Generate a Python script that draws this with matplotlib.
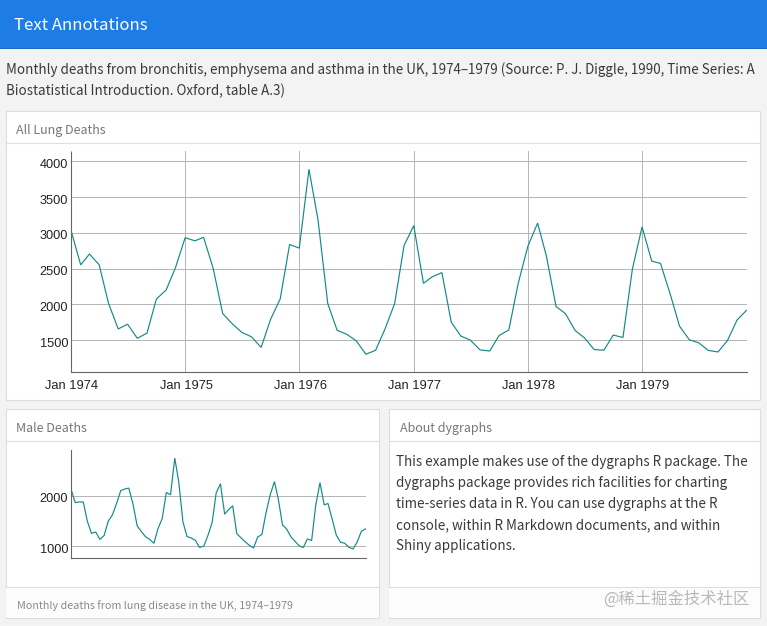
import matplotlib
matplotlib.use("Agg")
import matplotlib.pyplot as plt
from matplotlib.patches import Rectangle
from matplotlib.transforms import ScaledTranslation
import pandas as pd

plt.rcParams['font.family'] = ['Noto Sans CJK SC', 'DejaVu Sans']

# ---- data ----
months = pd.date_range("1974-01-01", "1979-12-01", freq="MS")
all_deaths = [
    3035, 2552, 2704, 2554, 2014, 1655, 1721, 1524, 1596, 2074, 2199, 2512,
    2933, 2889, 2938, 2497, 1870, 1726, 1607, 1545, 1396, 1787, 2076, 2837,
    2787, 3891, 3179, 2011, 1636, 1580, 1489, 1300, 1356, 1653, 2013, 2823,
    3102, 2294, 2385, 2444, 1748, 1554, 1498, 1361, 1346, 1564, 1640, 2293,
    2815, 3137, 2679, 1969, 1870, 1633, 1529, 1366, 1357, 1570, 1535, 2491,
    3084, 2605, 2573, 2143, 1693, 1504, 1461, 1354, 1333, 1492, 1781, 1915]
male_deaths = [
    2134, 1863, 1877, 1877, 1492, 1249, 1280, 1131, 1209, 1492, 1621, 1846,
    2103, 2137, 2153, 1833, 1403, 1288, 1186, 1133, 1053, 1347, 1545, 2066,
    2020, 2750, 2283, 1479, 1189, 1160, 1113, 970, 999, 1208, 1467, 2059,
    2240, 1634, 1722, 1801, 1246, 1162, 1087, 1013, 959, 1179, 1229, 1655,
    2019, 2284, 1942, 1423, 1340, 1187, 1098, 1004, 970, 1140, 1110, 1812,
    2263, 1820, 1846, 1531, 1215, 1075, 1056, 975, 940, 1081, 1294, 1341]
top_yticks = [1500, 2000, 2500, 3000, 3500, 4000]
male_yticks = [1000, 2000]
year_ticks = pd.to_datetime(["1974-01-01", "1975-01-01", "1976-01-01",
                             "1977-01-01", "1978-01-01", "1979-01-01"])
year_labels = ["Jan 1974", "Jan 1975", "Jan 1976", "Jan 1977", "Jan 1978", "Jan 1979"]

title_text = "Text Annotations"
intro_lines = ["Monthly deaths from bronchitis, emphysema and asthma in the UK, 1974–1979 (Source: P. J. Diggle, 1990, Time Series: A",
               "Biostatistical Introduction. Oxford, table A.3)"]
about_lines = ["This example makes use of the dygraphs R package. The",
               "dygraphs package provides rich facilities for charting",
               "time-series data in R. You can use dygraphs at the R",
               "console, within R Markdown documents, and within",
               "Shiny applications."]
footer_text = "Monthly deaths from lung disease in the UK, 1974–1979"
watermark = "@稀土掘金技术社区"

# ---- layout ----
W, H = 767, 626
BLUE, BG, BORDER = "#1e7ce6", "#f3f3f3", "#dedede"
TEAL, GRID, AXIS = "#138a88", "#b4b4b4", "#666666"
INK, MUTED = "#3a3a3a", "#777777"

fig = plt.figure(figsize=(W / 100, H / 100), dpi=100, facecolor=BG)
bg = fig.add_axes([0, 0, 1, 1], zorder=0)
bg.set_xlim(0, W)
bg.set_ylim(H, 0)
bg.axis("off")

bg.add_patch(Rectangle((0, 0), W, 48, fc=BLUE, ec="none"))
bg.add_patch(Rectangle((0, 48), W, 1, fc="#1a68c2", ec="none"))
bg.text(14, 25, title_text, color="white", fontsize=12.05, va="center", ha="left")
for i, line in enumerate(intro_lines):
    bg.text(6, 70 + 21 * i, line, color=INK, fontsize=9.65, va="center", ha="left")


def panel(x0, y0, x1, y1, title, foot_y=None):
    bg.add_patch(Rectangle((x0, y0), x1 - x0, y1 - y0, fc="white", ec=BORDER, lw=0.8))
    bg.plot([x0, x1], [y0 + 32, y0 + 32], color=BORDER, lw=0.8)
    bg.text(x0 + 11, y0 + 20, title, color=MUTED, fontsize=9.0, va="center", ha="left")
    if foot_y is not None:
        bg.add_patch(Rectangle((x0 + 0.5, foot_y), x1 - x0 - 1, y1 - foot_y - 0.5,
                               fc="#fcfcfc", ec="none"))
        bg.plot([x0, x1], [foot_y, foot_y], color=BORDER, lw=0.8)


panel(5.5, 110.5, 759.5, 399.5, "All Lung Deaths")
panel(5.5, 408.5, 378.5, 617.5, "Male Deaths", 586.5)
panel(388.5, 408.5, 759.5, 617.5, "About dygraphs", 586.5)

bg.text(17, 606, footer_text, color="#8a8a8a", fontsize=7.75, va="center", ha="left")
for i, line in enumerate(about_lines):
    bg.text(396.5, 462 + 21 * i, line, color=INK, fontsize=9.66, va="center", ha="left")
bg.text(749, 599, watermark, color="#b9b9b9", fontsize=11.75, va="center", ha="right", zorder=5)


def chart(x0, x1, y_top, y_bot, values, yticks, ylim, xlabels):
    ax = fig.add_axes([x0 / W, 1 - y_bot / H, (x1 - x0) / W, (y_bot - y_top) / H], zorder=2)
    ax.patch.set_alpha(0)
    ax.plot(months, values, color=TEAL, lw=0.85, solid_joinstyle="miter")
    ax.set_xlim(months[0], months[-1])
    ax.set_ylim(*ylim)
    ax.set_yticks(yticks)
    ax.set_yticklabels([str(t) for t in yticks], fontfamily="Liberation Sans", fontsize=9.2, color="#222222")
    ax.set_xticks(year_ticks)
    if xlabels:
        ax.set_xticklabels(year_labels, fontfamily="Liberation Sans", fontsize=9.3, color="#222222")
        ax.grid(True, axis="x", color=GRID, lw=0.7)
    else:
        ax.set_xticks([])
    ax.grid(True, axis="y", color=GRID, lw=0.7)
    ax.set_axisbelow(True)
    ax.tick_params(length=0)
    ax.tick_params(axis="y", pad=2.0)
    ax.tick_params(axis="x", pad=6)
    # dygraphs sets its value labels slightly below their grid lines
    shift = ScaledTranslation(0, -2 / 100, fig.dpi_scale_trans)
    for lab in ax.get_yticklabels():
        lab.set_transform(lab.get_transform() + shift)
    for lab in ax.get_xticklabels():
        lab.set_transform(lab.get_transform() + ScaledTranslation(1 / 100, 0, fig.dpi_scale_trans))
    for s in ("top", "right"):
        ax.spines[s].set_visible(False)
    for s in ("left", "bottom"):
        ax.spines[s].set_color(AXIS)
        ax.spines[s].set_linewidth(0.8)
    return ax


chart(71, 746.5, 151.5, 371.5, all_deaths, top_yticks, (1059, 4140), True)
chart(71, 365.5, 449.5, 558, male_deaths, male_yticks, (761, 2922), False)

fig.savefig("out.png", dpi=100, facecolor=BG)
